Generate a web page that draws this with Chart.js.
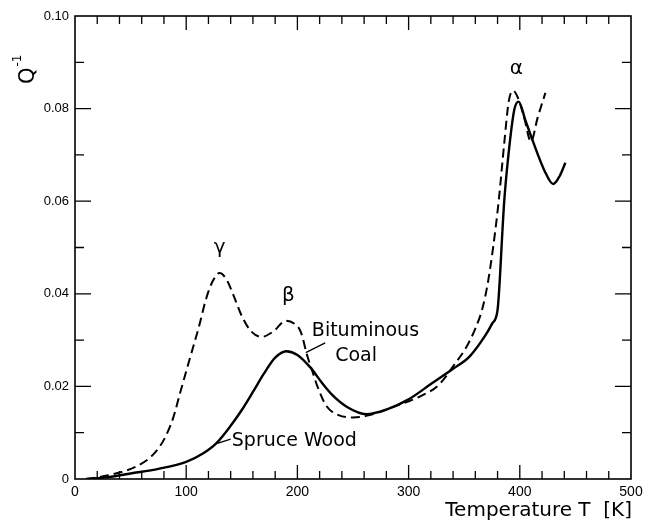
<!DOCTYPE html>
<html>
<head>
<meta charset="utf-8">
<script src="https://cdn.jsdelivr.net/npm/chart.js@4.4.1/dist/chart.umd.min.js"></script>
<style>
  html, body { margin: 0; padding: 0; background: #fff; }
  #grafico { display: block; }
</style>
</head>
<body>
<canvas id="grafico" width="645" height="526"></canvas>
<script>
// Spruce Wood (solid line)
const tempSpruce = [10, 30, 50, 75, 100, 115, 127, 140, 150, 160, 170, 180, 190, 200, 212, 222, 232, 245, 262, 280, 300, 320, 340, 355, 369, 375, 380, 382, 384, 386, 390, 395, 399, 405, 412, 422, 430, 436, 441];
const qSpruce = [0, 0.0004, 0.0012, 0.0022, 0.0037, 0.0055, 0.0077, 0.0115, 0.0149, 0.0188, 0.0228, 0.0262, 0.0276, 0.0268, 0.0240, 0.0208, 0.0180, 0.0155, 0.0140, 0.0150, 0.0172, 0.0205, 0.0238, 0.0265, 0.0310, 0.0335, 0.0365, 0.0430, 0.0520, 0.0600, 0.0705, 0.0797, 0.0815, 0.0775, 0.0728, 0.0667, 0.0637, 0.0655, 0.0683];

// Bituminous Coal (dashed line)
const tempCoal = [10, 30, 55, 70, 80, 88, 95, 103, 111, 118, 124, 130, 136, 142, 150, 158, 168, 178, 190, 197, 203, 209, 213, 218, 226, 237, 250, 265, 291, 310, 327, 342, 352, 360, 366, 371, 376, 381, 386, 390, 394, 398, 404, 410, 416, 423];
const qCoal = [0, 0.0008, 0.0027, 0.0052, 0.0085, 0.0130, 0.0190, 0.0258, 0.0325, 0.0390, 0.0428, 0.0445, 0.0432, 0.0400, 0.0352, 0.0320, 0.0307, 0.0318, 0.0342, 0.0336, 0.0318, 0.0265, 0.0236, 0.0200, 0.0158, 0.0138, 0.0133, 0.0138, 0.0160, 0.0178, 0.0203, 0.0250, 0.0285, 0.0325, 0.0365, 0.0420, 0.0500, 0.0600, 0.0725, 0.0815, 0.0839, 0.0825, 0.0780, 0.0729, 0.0780, 0.0834];

const xTicks = [0, 100, 200, 300, 400, 500];
const yTicks = [0, 0.02, 0.04, 0.06, 0.08, 0.10];

const pares = (xs, ys) => xs.map((x, i) => ({ x: x, y: ys[i] }));

const fonte = "'DejaVu Sans', sans-serif";
const fonteNum = "'Liberation Sans', Arial, sans-serif";

// moldura, marcas internas e textos
const moldura = {
    id: "moldura",
    afterDraw(chart) {
        const ctx = chart.ctx;
        const a = chart.chartArea;
        const sx = chart.scales.x;
        const sy = chart.scales.y;
        ctx.save();
        ctx.strokeStyle = "#000";
        ctx.lineWidth = 1.6;
        ctx.strokeRect(a.left, a.top, a.right - a.left, a.bottom - a.top);

        ctx.lineWidth = 1.3;
        ctx.beginPath();
        for (let t = 20; t < 500; t += 20) {
            const px = sx.getPixelForValue(t);
            const len = t % 100 === 0 ? 14 : 8;
            ctx.moveTo(px, a.bottom); ctx.lineTo(px, a.bottom - len);
            ctx.moveTo(px, a.top); ctx.lineTo(px, a.top + len);
        }
        for (let i = 1; i < 10; i++) {
            const py = sy.getPixelForValue(i / 100);
            const len = i % 2 === 0 ? 16 : 9;
            ctx.moveTo(a.left, py); ctx.lineTo(a.left + len, py);
            ctx.moveTo(a.right, py); ctx.lineTo(a.right - len, py);
        }
        ctx.stroke();

        ctx.fillStyle = "#000";
        const texto = (s, t, q, tam, alinh) => {
            ctx.font = tam + "px " + fonte;
            ctx.textAlign = alinh || "center";
            ctx.textBaseline = "middle";
            ctx.fillText(s, sx.getPixelForValue(t), sy.getPixelForValue(q));
        };
        texto("γ", 130, 0.0500, 20);
        texto("β", 192, 0.0395, 20);
        texto("α", 397, 0.0885, 20);
        texto("Bituminous", 213, 0.0320, 19, "left");
        texto("Coal", 234, 0.0266, 19, "left");
        texto("Spruce Wood", 141, 0.0082, 19, "left");

        // linhas de chamada
        ctx.lineWidth = 1.3;
        ctx.beginPath();
        ctx.moveTo(sx.getPixelForValue(207.5), sy.getPixelForValue(0.0273));
        ctx.lineTo(sx.getPixelForValue(225), sy.getPixelForValue(0.0294));
        ctx.moveTo(sx.getPixelForValue(128), sy.getPixelForValue(0.0077));
        ctx.lineTo(sx.getPixelForValue(140), sy.getPixelForValue(0.0086));
        ctx.stroke();

        // titulo do eixo x
        ctx.font = "20px " + fonte;
        ctx.textAlign = "right";
        ctx.textBaseline = "middle";
        ctx.fillText("Temperature T  [K]", a.right + 1, 511);

        // titulo do eixo y, girado
        ctx.translate(29, 84);
        ctx.rotate(-Math.PI / 2);
        ctx.font = "21px " + fonte;
        ctx.textAlign = "left";
        ctx.textBaseline = "middle";
        ctx.fillText("Q", 0, 0);
        const w = ctx.measureText("Q").width;
        ctx.font = "12px " + fonte;
        ctx.fillText("-1", w + 1, -11);
        ctx.restore();
    }
};

new Chart(document.getElementById("grafico"), {
    type: "line",
    data: {
        datasets: [{
            label: "Spruce Wood",
            data: pares(tempSpruce, qSpruce),
            borderColor: "#000",
            borderWidth: 2.4,
            pointRadius: 0,
            cubicInterpolationMode: "monotone",
            fill: false
        }, {
            label: "Bituminous Coal",
            data: pares(tempCoal, qCoal),
            borderColor: "#000",
            borderWidth: 2,
            borderDash: [9, 5],
            pointRadius: 0,
            cubicInterpolationMode: "monotone",
            fill: false
        }]
    },
    options: {
        responsive: false,
        animation: false,
        devicePixelRatio: 1,
        layout: { padding: { top: 16, right: 14, left: 0, bottom: 0 } },
        plugins: { legend: { display: false }, tooltip: { enabled: false } },
        scales: {
            x: {
                type: "linear",
                min: 0,
                max: 500,
                afterBuildTicks: s => { s.ticks = xTicks.map(v => ({ value: v })); },
                afterFit: s => { s.height = 47; s.paddingLeft = 0; s.paddingRight = 0; },
                grid: { display: false, drawTicks: false },
                border: { display: false },
                ticks: {
                    color: "#000",
                    padding: 5,
                    maxRotation: 0,
                    font: { family: fonteNum, size: 14 },
                    callback: v => String(v)
                }
            },
            y: {
                type: "linear",
                min: 0,
                max: 0.10,
                afterBuildTicks: s => { s.ticks = yTicks.map(v => ({ value: v })); },
                afterFit: s => { s.width = 75; s.paddingTop = 0; s.paddingBottom = 0; },
                grid: { display: false, drawTicks: false },
                border: { display: false },
                ticks: {
                    color: "#000",
                    padding: 6,
                    font: { family: fonteNum, size: 13 },
                    callback: v => v === 0 ? "0" : v.toFixed(2)
                }
            }
        }
    },
    plugins: [moldura]
});
</script>
</body>
</html>
